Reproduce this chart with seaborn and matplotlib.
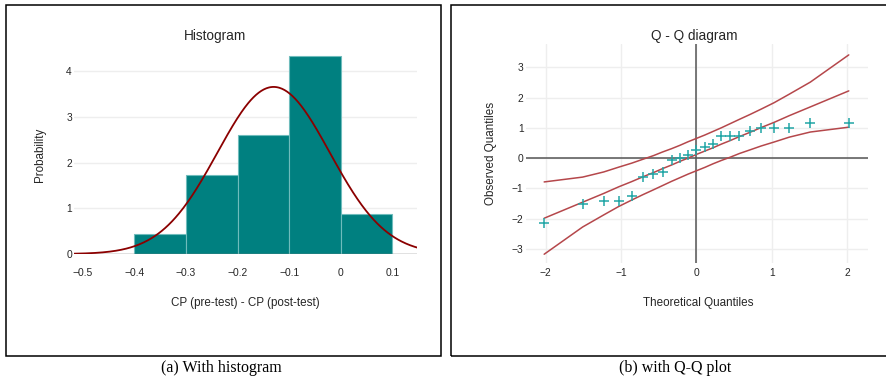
import numpy as np
import pandas as pd
import matplotlib
matplotlib.use("Agg")
import matplotlib.pyplot as plt
from matplotlib.patches import Rectangle
import seaborn as sns

# ---------------- data ----------------
bin_edges = [-0.4, -0.3, -0.2, -0.1, 0.0, 0.1]
bin_counts = [1, 4, 6, 10, 2]
fit_mean = -0.13
fit_sd = 0.109

hist_xticks = [-0.5, -0.4, -0.3, -0.2, -0.1, 0.0, 0.1]
hist_xticklabels = ["\u22120.5", "\u22120.4", "\u22120.3", "\u22120.2", "\u22120.1", "0", "0.1"]
hist_yticks = [0, 1, 2, 3, 4]

theoretical_q = [-2.02, -1.51, -1.23, -1.03, -0.86, -0.71, -0.57, -0.45, -0.33, -0.22, -0.11, 0.0,
                 0.11, 0.22, 0.33, 0.45, 0.57, 0.71, 0.86, 1.03, 1.23, 1.51, 2.02]
observed_q = [-2.15, -1.52, -1.43, -1.43, -1.25, -0.62, -0.53, -0.45, -0.08, 0.0, 0.10, 0.28,
              0.37, 0.45, 0.72, 0.72, 0.72, 0.90, 1.00, 1.00, 1.00, 1.17, 1.17]
band_mid = [-1.99, -1.46, -1.17, -0.95, -0.78, -0.62, -0.48, -0.35, -0.23, -0.11, 0.00, 0.12,
            0.23, 0.34, 0.46, 0.58, 0.71, 0.85, 1.01, 1.18, 1.40, 1.69, 2.22]
band_upper = [-0.79, -0.63, -0.46, -0.30, -0.17, -0.04, 0.08, 0.20, 0.31, 0.42, 0.54, 0.65,
              0.76, 0.88, 1.00, 1.14, 1.28, 1.44, 1.62, 1.83, 2.11, 2.51, 3.41]
band_lower = [-3.18, -2.28, -1.88, -1.60, -1.39, -1.21, -1.05, -0.91, -0.77, -0.65, -0.53, -0.42,
              -0.31, -0.19, -0.08, 0.03, 0.15, 0.27, 0.40, 0.53, 0.69, 0.86, 1.02]
qq_ticks_x = [-2, -1, 0, 1, 2]
qq_ticks_y = [-3, -2, -1, 0, 1, 2, 3]

# ---------------- style ----------------
sns.set_theme(style="white")
plt.rcParams["font.family"] = ["Liberation Sans", "DejaVu Sans"]

W, H = 887, 379
fig = plt.figure(figsize=(W / 100, H / 100), dpi=100)


def axrect(x0, y0, x1, y1):
    return [x0 / W, 1 - y1 / H, (x1 - x0) / W, (y1 - y0) / H]


TEAL = "#008080"
DARKRED = "#8b0000"
BAND = "#b5474b"
MARK = "#22a6a6"
GRID = "#eeeeee"
ZERO = "#555555"
TXT = "#262626"
tick_fs = 7.4
lab_fs = 8.4
title_fs = 9.8

# ---------------- histogram ----------------
ax1 = fig.add_axes(axrect(74, 44, 417, 254))
centers = [(a + b) / 2 for a, b in zip(bin_edges[:-1], bin_edges[1:])]
hist_df = pd.DataFrame({"x": centers, "w": bin_counts})
sns.histplot(data=hist_df, x="x", weights="w", bins=bin_edges, stat="density",
             color=TEAL, alpha=1, edgecolor="#6fbcbc", linewidth=0.8, ax=ax1, zorder=2)
xs = np.linspace(-0.52, 0.15, 400)
pdf = np.exp(-0.5 * ((xs - fit_mean) / fit_sd) ** 2) / (fit_sd * np.sqrt(2 * np.pi))
sns.lineplot(x=xs, y=pdf, color=DARKRED, linewidth=1.3, ax=ax1, zorder=4)
ax1.set_xlim(-0.517, 0.148)
ax1.set_ylim(0, 4.6)
ax1.set_xticks(hist_xticks)
ax1.set_xticklabels(hist_xticklabels)
ax1.set_yticks(hist_yticks)
for s in ax1.spines.values():
    s.set_visible(False)
ax1.grid(axis="y", color=GRID, linewidth=1, zorder=0)
ax1.grid(axis="x", visible=False)
ax1.set_axisbelow(True)
ax1.axhline(0, color="#777777", linewidth=1, zorder=3)
ax1.tick_params(axis="x", length=0, pad=10, labelsize=tick_fs, labelcolor=TXT)
ax1.tick_params(axis="y", length=0, pad=1.5, labelsize=tick_fs, labelcolor=TXT)
ax1.set_xlabel("CP (pre-test) - CP (post-test)", fontsize=lab_fs, color=TXT, va="center")
ax1.xaxis.set_label_coords(0.5, (254 - 303) / 210)
ax1.set_ylabel("Probability", fontsize=lab_fs, color=TXT, va="center")
ax1.yaxis.set_label_coords((40 - 74) / 343, (254 - 155) / 210)
ax1.set_title("Histogram", fontsize=title_fs, color=TXT, va="center")
ax1.title.set_position(((215 - 74) / 343, (254 - 23) / 210))

# ---------------- Q-Q plot ----------------
ax2 = fig.add_axes(axrect(525.7, 44, 868, 263))
qq_df = pd.DataFrame({"tq": theoretical_q, "oq": observed_q, "mid": band_mid,
                      "up": band_upper, "lo": band_lower})
for col in ["up", "mid", "lo"]:
    sns.lineplot(data=qq_df, x="tq", y=col, color=BAND, linewidth=1.1, ax=ax2, zorder=3)
sns.scatterplot(data=qq_df, x="tq", y="oq", marker="+", s=45, color=MARK,
                linewidth=1.1, ax=ax2, zorder=4)
ax2.set_xlim(-2.265, 2.275)
ax2.set_ylim(-3.47, 3.77)
ax2.set_xticks(qq_ticks_x)
ax2.set_xticklabels(["\u22122", "\u22121", "0", "1", "2"])
ax2.set_yticks(qq_ticks_y)
ax2.set_yticklabels(["\u22123", "\u22122", "\u22121", "0", "1", "2", "3"])
for s in ax2.spines.values():
    s.set_visible(False)
ax2.grid(True, color=GRID, linewidth=1, zorder=0)
ax2.set_axisbelow(True)
ax2.axhline(0, color=ZERO, linewidth=1.1, zorder=2)
ax2.axvline(0, color=ZERO, linewidth=1.1, zorder=2)
ax2.tick_params(axis="x", length=0, pad=3.5, labelsize=tick_fs, labelcolor=TXT)
ax2.tick_params(axis="y", length=0, pad=1.5, labelsize=tick_fs, labelcolor=TXT)
ax2.set_xlabel("Theoretical Quantiles", fontsize=lab_fs, color=TXT, va="center")
ax2.xaxis.set_label_coords((698 - 525.7) / 342.3, (263 - 303) / 219)
ax2.set_ylabel("Observed Quantiles", fontsize=lab_fs, color=TXT, va="center")
ax2.yaxis.set_label_coords((490.7 - 525.7) / 342.3, (263 - 153) / 219)
ax2.set_title("Q - Q diagram", fontsize=title_fs, color=TXT, va="center")
ax2.title.set_position(((694.7 - 525.7) / 342.3, (263 - 23) / 219))

# ---------------- frames and captions ----------------
fig.add_artist(Rectangle((6 / W, 1 - 355.7 / H), (441.3 - 6) / W, (355.7 - 5.3) / H,
                         transform=fig.transFigure, fill=False, edgecolor="black", linewidth=1.1))
fig.add_artist(Rectangle((451.3 / W, 1 - 355.7 / H), (900 - 451.3) / W, (355.7 - 5.3) / H,
                         transform=fig.transFigure, fill=False, edgecolor="black", linewidth=1.1,
                         clip_on=False))
fig.text(221 / W, 1 - 367.5 / H, "(a) With histogram", ha="center", va="center",
         fontsize=11.5, family=["Liberation Serif", "DejaVu Serif"], color="black")
fig.text(675 / W, 1 - 367.5 / H, "(b) with Q-Q plot", ha="center", va="center",
         fontsize=11.5, family=["Liberation Serif", "DejaVu Serif"], color="black")

fig.savefig("out.png", dpi=100)
